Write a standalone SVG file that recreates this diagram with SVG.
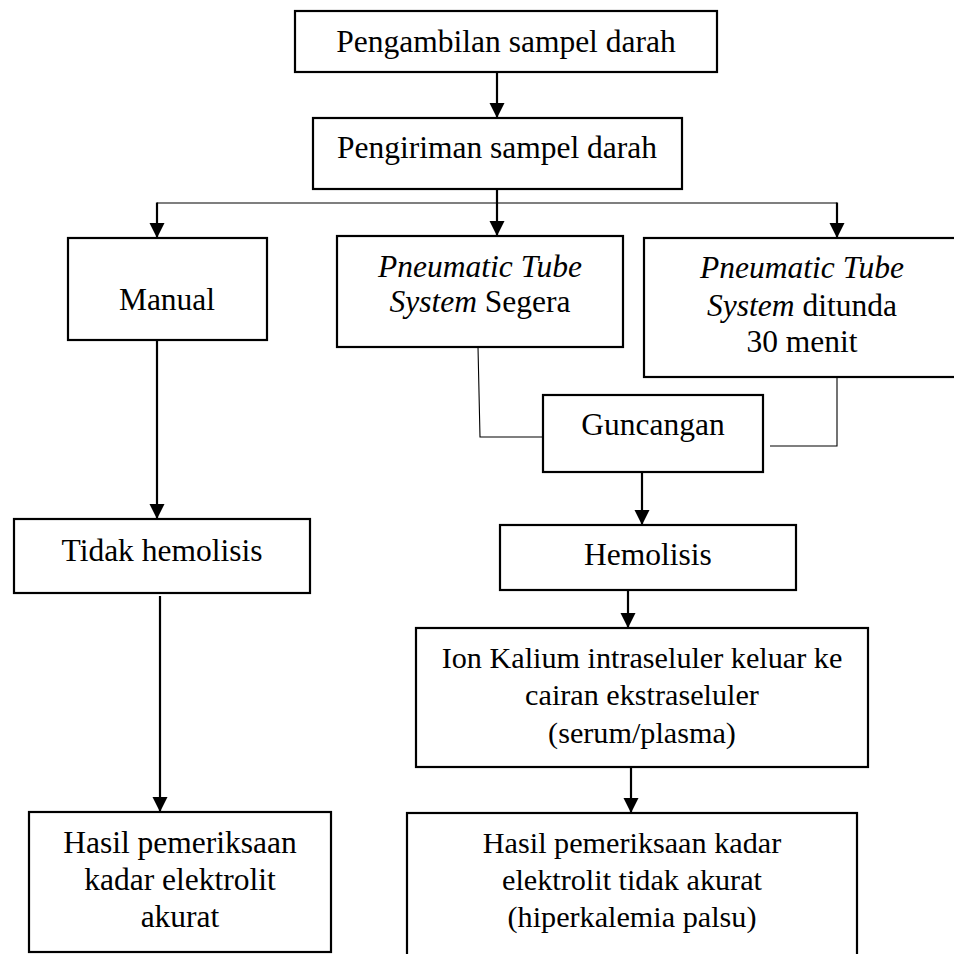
<svg xmlns="http://www.w3.org/2000/svg" width="954" height="954" viewBox="0 0 954 954">
  <style>
    .box { fill: #ffffff; stroke: #000000; stroke-width: 2.2; }
    .t { font-family: "Liberation Serif", "DejaVu Serif", serif; font-size: 31.5px; fill: #000000; text-anchor: middle; }
    .s { font-size: 30.2px; }
    .i { font-style: italic; }
    .arrow { stroke: #000000; stroke-width: 2.2; fill: none; marker-end: url(#ah); }
    .thin { stroke: #000000; stroke-width: 1.1; fill: none; }
  </style>
  <defs>
    <marker id="ah" markerUnits="userSpaceOnUse" markerWidth="16" markerHeight="16" refX="15" refY="7.5" orient="auto">
      <path d="M0,0 L15,7.5 L0,15 Z" fill="#000000"/>
    </marker>
  </defs>
  <rect width="954" height="954" fill="#ffffff"/>

  <g id="connectors">
    <line class="arrow" x1="497" y1="72" x2="497" y2="118"/>
    <line class="thin" x1="157" y1="203" x2="837" y2="203"/>
    <line class="arrow" x1="497" y1="189" x2="497" y2="236"/>
    <line class="arrow" x1="157" y1="202.5" x2="157" y2="238"/>
    <line class="arrow" x1="837" y1="202.5" x2="837" y2="238"/>
    <line class="arrow" x1="157" y1="340" x2="157" y2="519"/>
    <line class="arrow" x1="160" y1="596" x2="160" y2="812"/>
    <polyline class="thin" points="478,347 480,437 543,437"/>
    <polyline class="thin" points="837,377 837,446 770,446"/>
    <line class="arrow" x1="642" y1="472" x2="642" y2="525"/>
    <line class="arrow" x1="628" y1="590" x2="628" y2="628"/>
    <line class="arrow" x1="631" y1="767" x2="631" y2="813"/>
  </g>

  <g id="pengambilan">
    <rect class="box" x="295" y="11" width="422" height="61"/>
    <text class="t" x="506" y="52">Pengambilan sampel darah</text>
  </g>

  <g id="pengiriman">
    <rect class="box" x="313" y="118" width="369" height="71"/>
    <text class="t" x="497" y="158">Pengiriman sampel darah</text>
  </g>

  <g id="manual">
    <rect class="box" x="68" y="238" width="199" height="102"/>
    <text class="t" x="167" y="310">Manual</text>
  </g>

  <g id="pts-segera">
    <rect class="box" x="337" y="236" width="286" height="111"/>
    <text class="t" x="480" y="277"><tspan class="i">Pneumatic Tube</tspan></text>
    <text class="t" x="480" y="312"><tspan class="i">System</tspan> Segera</text>
  </g>

  <g id="pts-ditunda">
    <rect class="box" x="644" y="238" width="330" height="139"/>
    <text class="t" x="802" y="278"><tspan class="i">Pneumatic Tube</tspan></text>
    <text class="t" x="802" y="316"><tspan class="i">System</tspan> ditunda</text>
    <text class="t" x="802" y="352">30 menit</text>
  </g>

  <g id="guncangan">
    <rect class="box" x="543" y="395" width="220" height="77"/>
    <text class="t" x="653" y="435">Guncangan</text>
  </g>

  <g id="tidak-hemolisis">
    <rect class="box" x="14" y="519" width="296" height="74"/>
    <text class="t" x="162" y="561">Tidak hemolisis</text>
  </g>

  <g id="hemolisis">
    <rect class="box" x="500" y="525" width="296" height="65"/>
    <text class="t" x="648" y="565">Hemolisis</text>
  </g>

  <g id="ion-kalium">
    <rect class="box" x="416" y="628" width="452" height="139"/>
    <text class="t s" x="642" y="668">Ion Kalium intraseluler keluar ke</text>
    <text class="t s" x="642" y="705">cairan ekstraseluler</text>
    <text class="t s" x="642" y="743">(serum/plasma)</text>
  </g>

  <g id="hasil-akurat">
    <rect class="box" x="29" y="812" width="302" height="140"/>
    <text class="t" x="180" y="853">Hasil pemeriksaan</text>
    <text class="t" x="180" y="890">kadar elektrolit</text>
    <text class="t" x="180" y="927">akurat</text>
  </g>

  <g id="hasil-tidak-akurat">
    <rect class="box" x="407" y="813" width="450" height="160"/>
    <text class="t s" x="632" y="853">Hasil pemeriksaan kadar</text>
    <text class="t s" x="632" y="890">elektrolit tidak akurat</text>
    <text class="t s" x="632" y="927">(hiperkalemia palsu)</text>
  </g>
</svg>
